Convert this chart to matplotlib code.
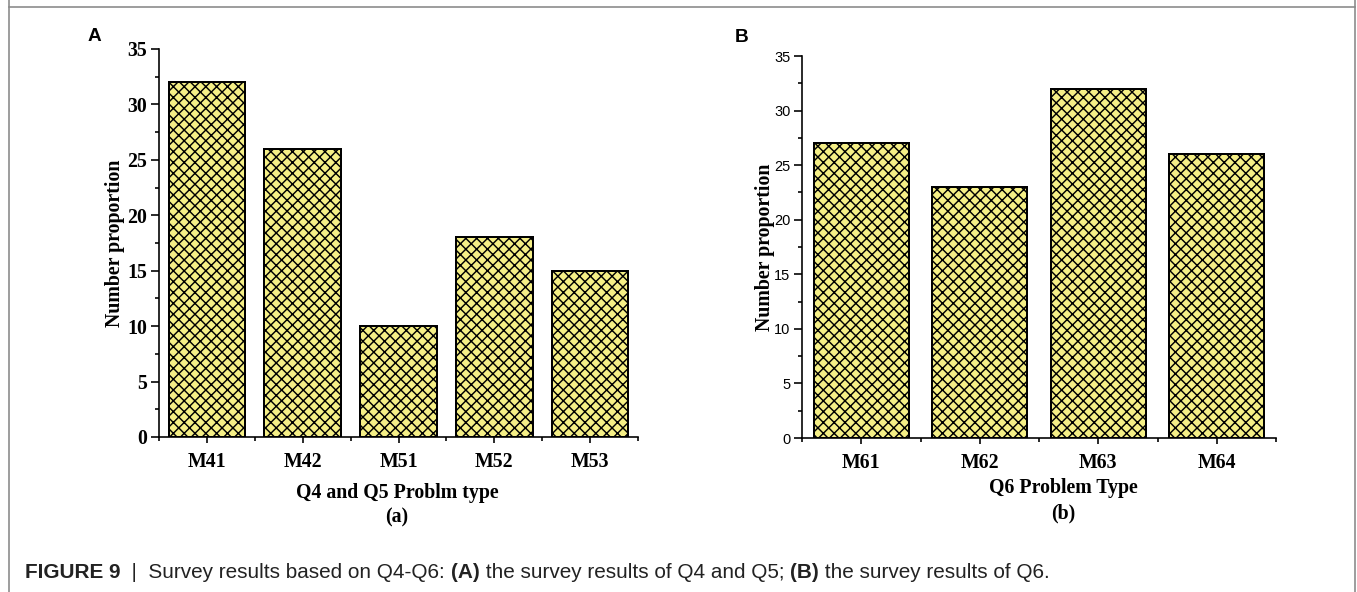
import matplotlib.pyplot as plt
from matplotlib.ticker import MultipleLocator, FixedLocator, NullFormatter
from matplotlib.lines import Line2D
import numpy as np

W, H, DPI = 1357, 592, 130

cats_a = ["M41", "M42", "M51", "M52", "M53"]
vals_a = [32, 26, 10, 18, 15]
cats_b = ["M61", "M62", "M63", "M64"]
vals_b = [27, 23, 32, 26]

plt.rcParams["hatch.linewidth"] = 0.8
SERIF = "Liberation Serif"
SANS = "Liberation Sans"
fill = "#f5ef86"

fig = plt.figure(figsize=(W / DPI, H / DPI), dpi=DPI)


def px(x, y):
    return x / W, 1 - y / H


def box(l, t, r, b):
    return [l / W, 1 - b / H, (r - l) / W, (b - t) / H]


def panel(rect, cats, vals, ytick_font):
    ax = fig.add_axes(rect)
    n = len(cats)
    x = np.arange(n)
    ax.bar(x, vals, width=0.8, color=fill, edgecolor="black", linewidth=1.1,
           hatch="xxxx", zorder=2)
    ax.set_xlim(-0.5, n - 0.5)
    ax.set_ylim(0, 35)
    for s in ("top", "right"):
        ax.spines[s].set_visible(False)
    for s in ("left", "bottom"):
        ax.spines[s].set_linewidth(0.9)
    ax.yaxis.set_major_locator(MultipleLocator(5))
    ax.yaxis.set_minor_locator(MultipleLocator(2.5))
    ax.xaxis.set_major_locator(FixedLocator(x))
    ax.xaxis.set_minor_locator(FixedLocator(np.arange(n + 1) - 0.5))
    ax.xaxis.set_minor_formatter(NullFormatter())
    ax.set_xticklabels(cats, fontfamily=SERIF, fontweight="bold", fontsize=11)
    ax.tick_params(axis="x", which="major", length=3.5, width=0.9, pad=5)
    ax.tick_params(axis="x", which="minor", length=2.2, width=0.9)
    ax.tick_params(axis="y", which="major", length=4.5, width=0.9, pad=2)
    ax.tick_params(axis="y", which="minor", length=2.4, width=0.9)
    for lab in ax.get_yticklabels():
        lab.set(**ytick_font)
    return ax


axA = panel(box(159, 49, 638, 437), cats_a, vals_a,
            dict(fontfamily=SERIF, fontweight="bold", fontsize=11))
axB = panel(box(802, 56, 1276, 438), cats_b, vals_b,
            dict(fontfamily=SANS, fontweight="normal", fontsize=8))

# axis titles
lab = dict(fontfamily=SERIF, fontweight="bold", fontsize=11, ha="center", va="center")
fig.text(*px(115, 243), "Number proportion", rotation=90, **lab)
fig.text(*px(397, 493), "Q4 and Q5 Problm type", **lab)
fig.text(*px(397, 517), "(a)", **lab)
fig.text(*px(765, 247), "Number proportion", rotation=90, **lab)
fig.text(*px(1063, 488), "Q6 Problem Type", **lab)
fig.text(*px(1063, 513), "(b)", **lab)

# panel letters
fig.text(*px(88, 41), "A", fontfamily=SANS, fontweight="bold", fontsize=10.5, va="baseline")
fig.text(*px(735, 42), "B", fontfamily=SANS, fontweight="bold", fontsize=10.5, va="baseline")

# frame around the figure
for xs, ys in [((9, 9), (0, H)), ((1355, 1355), (0, H)), ((9, 1355), (7, 7))]:
    fig.add_artist(Line2D([v / W for v in xs], [1 - v / H for v in ys],
                          color="#8a8a8a", lw=0.9, transform=fig.transFigure))

# caption, pieces placed left to right
cap = [("FIGURE 9", "bold"), ("  |  Survey results based on Q4-Q6: ", "normal"),
       ("(A)", "bold"), (" the survey results of Q4 and Q5; ", "normal"),
       ("(B)", "bold"), (" the survey results of Q6.", "normal")]
capfam = ["Liberation Sans Narrow", "Liberation Sans"]
capsize = 11.5
pieces = [fig.text(*px(25, 578), txt, fontfamily=capfam, fontweight=wt,
                   fontsize=capsize, va="baseline", color="#222222")
          for txt, wt in cap]

fig.canvas.draw()
r = fig.canvas.get_renderer()
xcur = None
for t in pieces:
    if xcur is not None:
        t.set_x(xcur / W)
    xcur = t.get_window_extent(r).x1

fig.savefig("out.png", dpi=DPI)
